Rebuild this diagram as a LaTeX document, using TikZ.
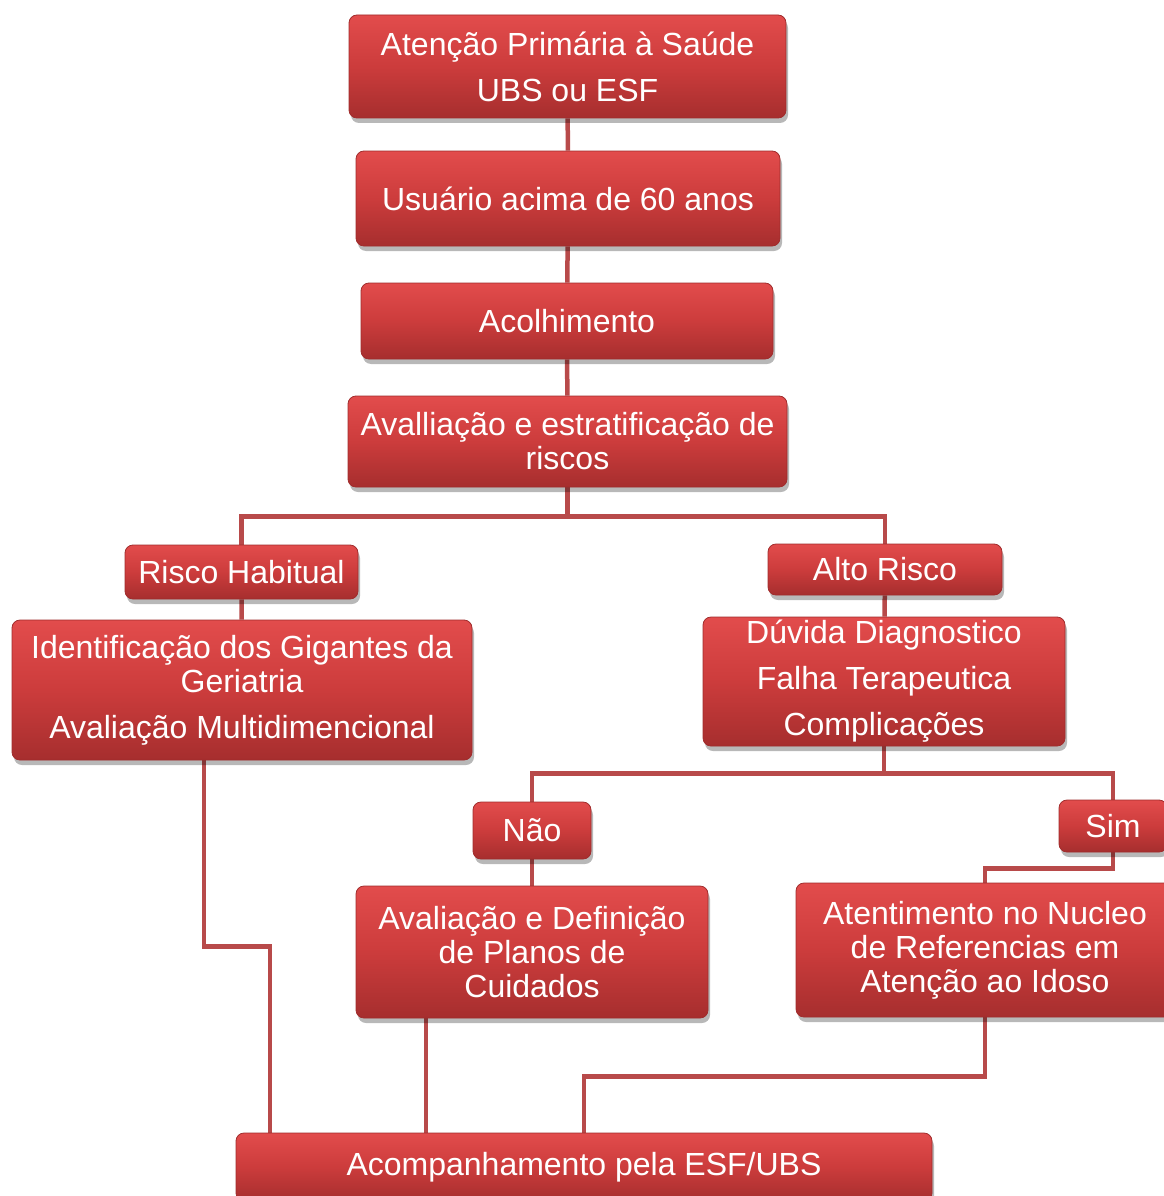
\documentclass[tikz,border=0pt]{standalone}
\usepackage{fontspec}
\setmainfont{Liberation Sans}
\usetikzlibrary{calc,positioning,shadows,backgrounds}
\definecolor{boxtop}{RGB}{226,76,76}
\definecolor{boxmid}{RGB}{204,60,60}
\definecolor{boxbot}{RGB}{166,46,46}
\definecolor{boxrim}{RGB}{160,44,44}
\definecolor{linkred}{RGB}{184,74,74}
\begin{document}
\begin{tikzpicture}[x=1pt, y=-1pt,
    box/.style={rectangle, rounded corners=8pt, inner sep=0pt, align=center,
        top color=boxtop, bottom color=boxbot, middle color=boxmid,
        draw=boxrim, line width=0.8pt, text=white,
        font=\fontsize{32}{34}\selectfont,
        drop shadow={shadow xshift=2pt, shadow yshift=-5pt, fill=black, opacity=0.28}},
    link/.style={draw=linkred, line width=4.5pt}]
    \useasboundingbox (0,0) rectangle (1163,1196);

    \node[box, minimum width=437, minimum height=103] (1) at (567.5,66.5) {Atenção Primária à Saúde\\[12pt]UBS ou ESF};
    \node[box, minimum width=424, minimum height=95] (2) at (568,198.5) {Usuário acima de 60 anos};
    \node[box, minimum width=412, minimum height=76] (3) at (567,321) {Acolhimento};
    \node[box, minimum width=439, minimum height=91] (4) at (567.5,441.5) {Avalliação e estratificação de\\riscos};
    \node[box, minimum width=233, minimum height=54] (5) at (241.5,572) {Risco Habitual};
    \node[box, minimum width=460, minimum height=140] (6) at (242,690) {Identificação dos Gigantes da\\Geriatria\\[12pt]Avaliação Multidimencional};
    \node[box, minimum width=234, minimum height=51] (7) at (885,569.5) {Alto Risco};
    \node[box, minimum width=362, minimum height=129] (8) at (884,681.5) {Dúvida Diagnostico\\[12pt]Falha Terapeutica\\[12pt]Complicações};
    \node[box, minimum width=118, minimum height=57] (9) at (532,830.5) {Não};
    \node[box, minimum width=108, minimum height=52] (10) at (1113,826) {Sim};
    \node[box, minimum width=352, minimum height=132] (11) at (532,952) {Avaliação e Definição\\de Planos de\\Cuidados};
    \node[box, minimum width=378, minimum height=134] (12) at (985,950) {Atentimento no Nucleo\\de Referencias em\\Atenção ao Idoso};
    \node[box, minimum width=696, minimum height=68] (13) at (584,1167) {Acompanhamento pela ESF/UBS};

    \begin{scope}[on background layer]
        \draw[link] (1) -- (2);
        \draw[link] (2) -- (3);
        \draw[link] (3) -- (4);
        \draw[link] (4.south) -- ++(0,29) -| (5.north);
        \draw[link] (4.south) -- ++(0,29) -| (7.north);
        \draw[link] (5) -- (6);
        \draw[link] (7) -- (8);
        \draw[link] (8.south) -- ++(0,27) -| (9.north);
        \draw[link] (8.south) -- ++(0,27) -| (10.north);
        \draw[link] (9) -- (11);
        \draw[link] (10.south) -- ++(0,16) -| (12.north);
        % three ways down to the last box
        \draw[link] ([xshift=-38pt]6.south) -- ++(0,186) -| ([xshift=-314pt]13.north);
        \draw[link] ([xshift=-106pt]11.south) -- ([xshift=-106pt]11.south |- 13.north);
        \draw[link] (12.south) -- ++(0,59) -| (13.north);
    \end{scope}
\end{tikzpicture}
\end{document}
